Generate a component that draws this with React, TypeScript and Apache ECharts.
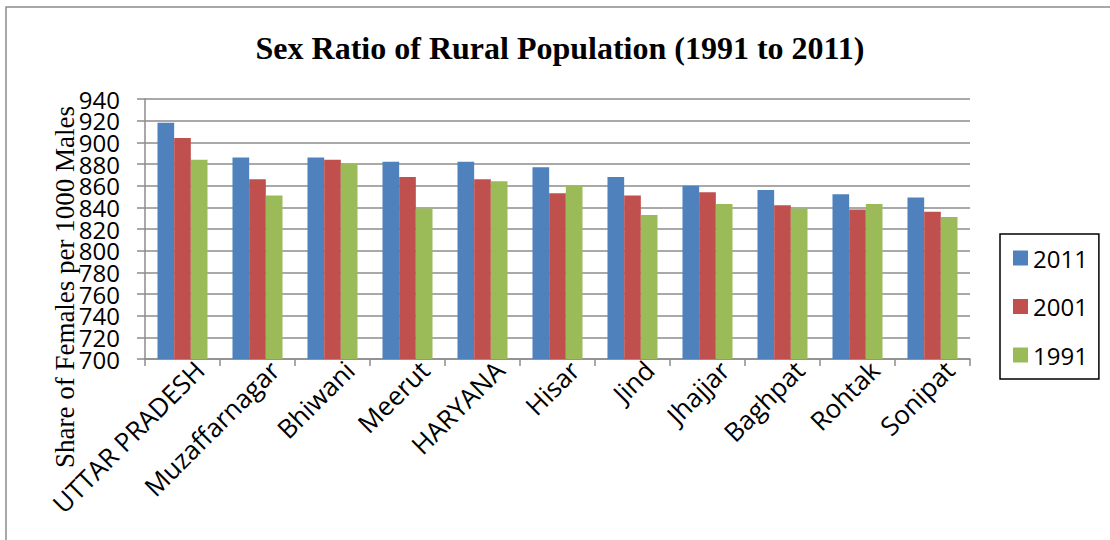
import React, { useEffect, useRef } from "react";
import * as echarts from "echarts";

const categories = [
  "UTTAR PRADESH",
  "Muzaffarnagar",
  "Bhiwani",
  "Meerut",
  "HARYANA",
  "Hisar",
  "Jind",
  "Jhajjar",
  "Baghpat",
  "Rohtak",
  "Sonipat",
];

const ratio2011 = [918, 886, 886, 882, 882, 877, 868, 860, 856, 852, 849];
const ratio2001 = [904, 866, 884, 868, 866, 853, 851, 854, 842, 838, 836];
const ratio1991 = [884, 851, 880, 839, 864, 860, 833, 843, 839, 843, 831];

const seriesNames = ["2011", "2001", "1991"];
const seriesColors = ["#4F81BD", "#C0504D", "#9BBB59"];

const yMin = 700;
const yMax = 940;
const yStep = 20;

const gridGray = "#8c8c8c";
const sansFont = "'Open Sans', 'Liberation Sans', sans-serif";
const serifFont = "'Liberation Serif', 'DejaVu Serif', serif";

// The tick labels sit very close together, so they are split across two
// stacked value axes (even and odd steps) to keep every label visible.
const tickLabelStyle = {
  margin: 25,
  showMinLabel: true,
  showMaxLabel: true,
  hideOverlap: false,
  fontFamily: sansFont,
  fontSize: 24,
  color: "#000",
};

const stepIndex = (v: number) => Math.round((v - yMin) / yStep);

export default function App() {
  const ref = useRef<HTMLDivElement>(null);

  useEffect(() => {
    document.body.style.margin = "0";
    if (!ref.current) return;
    const chart = echarts.init(ref.current, undefined, { renderer: "svg" });

    const values = [ratio2011, ratio2001, ratio1991];

    chart.setOption({
      animation: false,
      backgroundColor: "#ffffff",
      title: {
        text: "Sex Ratio of Rural Population (1991 to 2011)",
        left: 555,
        top: 27,
        textAlign: "center",
        textStyle: {
          fontFamily: serifFont,
          fontWeight: "bold",
          fontSize: 32,
          color: "#000",
        },
      },
      legend: {
        orient: "vertical",
        left: 1000,
        top: 234,
        padding: [12, 11, 12, 13],
        borderColor: "#000",
        borderWidth: 1.5,
        itemWidth: 15,
        itemHeight: 15,
        itemGap: 24.5,
        itemTextGap: 8,
        icon: "rect",
        data: seriesNames,
        textStyle: {
          fontFamily: sansFont,
          fontSize: 24,
          lineHeight: 24,
          color: "#000",
        },
      },
      grid: {
        left: 145,
        right: 140,
        top: 99,
        bottom: 181,
      },
      xAxis: {
        type: "category",
        data: categories,
        axisLine: { lineStyle: { color: gridGray, width: 1.5 } },
        axisTick: {
          show: true,
          length: 7,
          interval: 0,
          lineStyle: { color: gridGray, width: 1.5 },
        },
        axisLabel: {
          interval: 0,
          rotate: 45,
          margin: 5,
          verticalAlign: "top",
          padding: [0, -11, 0, 0],
          fontFamily: sansFont,
          fontSize: 26,
          color: "#000",
        },
      },
      yAxis: [
        {
          type: "value",
          min: yMin,
          max: yMax,
          interval: yStep,
          axisLine: { show: true, lineStyle: { color: gridGray, width: 1.5 } },
          axisTick: {
            show: true,
            length: 8,
            lineStyle: { color: gridGray, width: 1.5 },
          },
          splitLine: { lineStyle: { color: gridGray, width: 1.5 } },
          axisLabel: {
            ...tickLabelStyle,
            formatter: (v: number) => (stepIndex(v) % 2 === 0 ? String(v) : ""),
          },
        },
        {
          type: "value",
          position: "left",
          min: yMin,
          max: yMax,
          interval: yStep,
          axisLine: { show: false },
          axisTick: { show: false },
          splitLine: { show: false },
          axisLabel: {
            ...tickLabelStyle,
            formatter: (v: number) => (stepIndex(v) % 2 === 1 ? String(v) : ""),
          },
        },
      ],
      series: seriesNames.map((name, i) => ({
        name,
        type: "bar",
        yAxisIndex: 0,
        data: values[i],
        barGap: "0%",
        barCategoryGap: "33.3%",
        itemStyle: { color: seriesColors[i] },
      })),
      graphic: [
        {
          type: "rect",
          silent: true,
          shape: { x: 6, y: 7, width: 1200, height: 700 },
          style: { fill: "none", stroke: gridGray, lineWidth: 1.5 },
        },
        {
          type: "text",
          x: 65,
          y: 287,
          rotation: Math.PI / 2,
          style: {
            text: "Share of Females per 1000 Males",
            font: `27px ${serifFont}`,
            fill: "#000",
            align: "center",
            verticalAlign: "middle",
          },
        },
      ],
    });

    return () => chart.dispose();
  }, []);

  return <div ref={ref} style={{ width: 1110, height: 540 }} />;
}
